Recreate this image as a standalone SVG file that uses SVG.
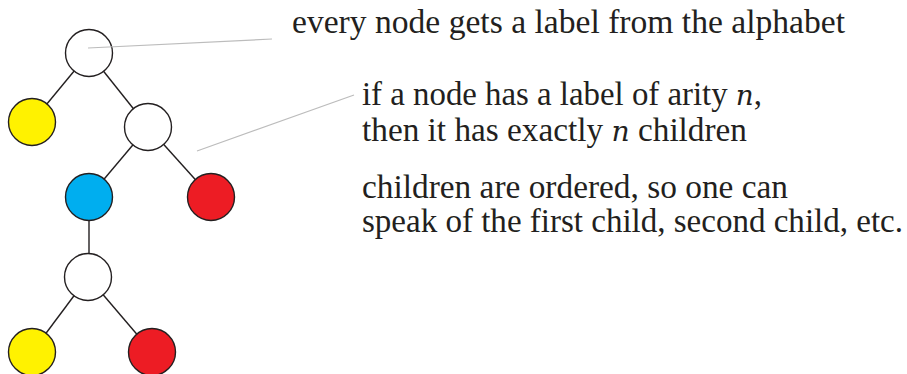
<svg xmlns="http://www.w3.org/2000/svg" width="907" height="374" viewBox="0 0 907 374">
<style>
.edge{stroke:#231f20;stroke-width:1.4;fill:none}
.pointer{stroke:#bcbcbc;stroke-width:1.2;fill:none}
.node{stroke:#231f20;stroke-width:1.4}
.w{fill:#ffffff}.y{fill:#fff200}.b{fill:#00aeef}.r{fill:#ed1c24}
text{font-family:"Liberation Serif","DejaVu Serif",serif;font-size:33px;fill:#231f20}
.i{font-family:"DejaVu Serif",serif;font-style:italic;font-size:28px}
</style>
<rect width="907" height="374" fill="#ffffff"/>
<g id="connectors">
<line class="edge" x1="89" y1="53" x2="32" y2="122"/>
<line class="edge" x1="89" y1="53" x2="148" y2="127"/>
<line class="edge" x1="148" y1="127" x2="89" y2="197"/>
<line class="edge" x1="148" y1="127" x2="211" y2="197"/>
<line class="edge" x1="89" y1="197" x2="89" y2="277"/>
<line class="edge" x1="88" y1="277" x2="32" y2="352"/>
<line class="edge" x1="88" y1="277" x2="152" y2="352"/>
</g>
<g id="n1"><circle class="node w" cx="89" cy="53" r="23.5"/></g>
<g id="n2"><circle class="node y" cx="32" cy="122" r="23.5"/></g>
<g id="n3"><circle class="node w" cx="148" cy="127" r="23.5"/></g>
<g id="n4"><circle class="node b" cx="89" cy="197" r="23.5"/></g>
<g id="n5"><circle class="node r" cx="211" cy="197" r="23.5"/></g>
<g id="n6"><circle class="node w" cx="88" cy="277" r="23.5"/></g>
<g id="n7"><circle class="node y" cx="32" cy="352" r="23.5"/></g>
<g id="n8"><circle class="node r" cx="152" cy="352" r="23.5"/></g>
<g id="pointers">
<line class="pointer" x1="88" y1="48" x2="272" y2="39"/>
<line class="pointer" x1="197" y1="151" x2="354" y2="95"/>
</g>
<g id="labels">
<text x="292" y="33" textLength="553" lengthAdjust="spacingAndGlyphs">every node gets a label from the alphabet</text>
<text x="362" y="105" textLength="400" lengthAdjust="spacingAndGlyphs">if a node has a label of arity <tspan class="i">n</tspan>,</text>
<text x="362" y="141" textLength="385" lengthAdjust="spacingAndGlyphs">then it has exactly <tspan class="i">n</tspan> children</text>
<text x="362" y="198" textLength="426" lengthAdjust="spacingAndGlyphs">children are ordered, so one can</text>
<text x="362" y="232" textLength="541" lengthAdjust="spacingAndGlyphs">speak of the first child, second child, etc.</text>
</g>
</svg>
